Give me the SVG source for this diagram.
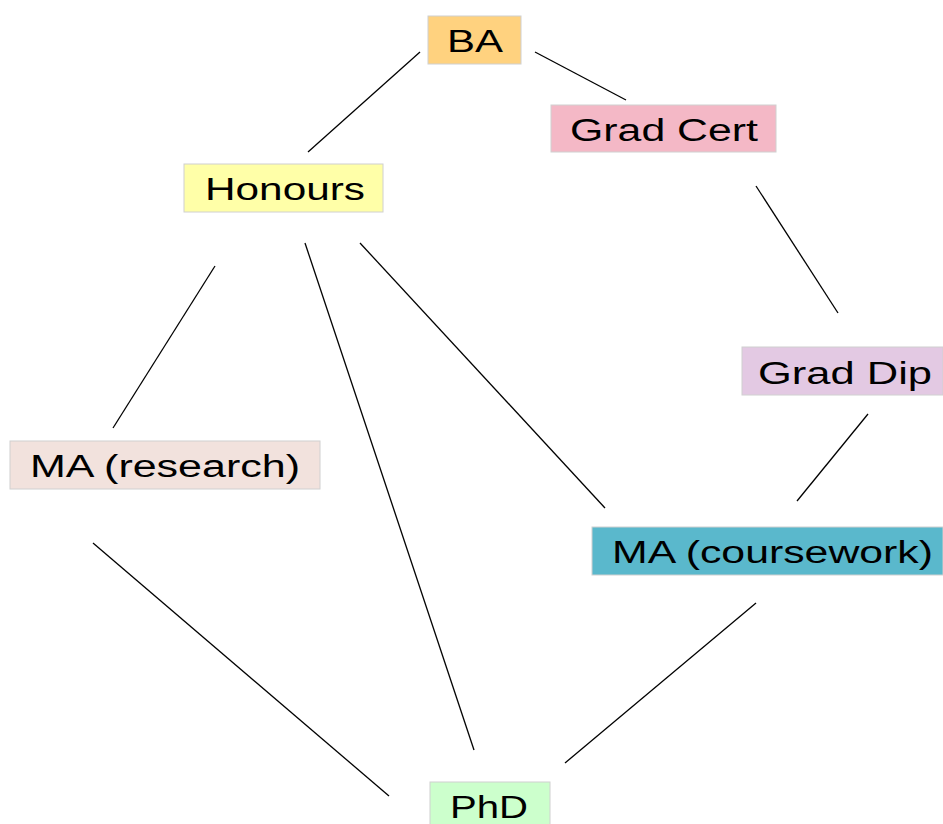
<svg xmlns="http://www.w3.org/2000/svg" width="943" height="824" viewBox="0 0 943 824">
<style>
.box{stroke:#d0d0d0;stroke-width:1}
.lbl{font-family:"Liberation Sans",Arial,sans-serif;font-size:31px;fill:#000}
.edge{stroke:#000;stroke-width:1.3;fill:none}
</style>
<rect width="943" height="824" fill="#fff"/>
<g id="connectors">
<line class="edge" x1="420" y1="52" x2="308" y2="152"/>
<line class="edge" x1="535" y1="52" x2="626" y2="100"/>
<line class="edge" x1="756" y1="186" x2="838" y2="313"/>
<line class="edge" x1="868" y1="414" x2="797" y2="501"/>
<line class="edge" x1="215" y1="266" x2="113" y2="428"/>
<line class="edge" x1="305" y1="243" x2="474" y2="750"/>
<line class="edge" x1="360" y1="243" x2="605" y2="508"/>
<line class="edge" x1="93" y1="543" x2="389" y2="796"/>
<line class="edge" x1="756" y1="603" x2="565" y2="763"/>
</g>
<g id="BA"><rect class="box" x="428" y="16" width="93" height="48" fill="#ffd27f"/><text class="lbl" x="447" y="52" textLength="56" lengthAdjust="spacingAndGlyphs">BA</text></g>
<g id="Honours"><rect class="box" x="184" y="164" width="199" height="48" fill="#ffffa8"/><text class="lbl" x="205" y="200" textLength="160" lengthAdjust="spacingAndGlyphs">Honours</text></g>
<g id="GradCert"><rect class="box" x="551" y="105" width="225" height="47" fill="#f4b8c6"/><text class="lbl" x="570" y="141" textLength="188" lengthAdjust="spacingAndGlyphs">Grad Cert</text></g>
<g id="GradDip"><rect class="box" x="742" y="347" width="201" height="48" fill="#e3c9e3"/><text class="lbl" x="758" y="384" textLength="174" lengthAdjust="spacingAndGlyphs">Grad Dip</text></g>
<g id="MAresearch"><rect class="box" x="10" y="441" width="310" height="48" fill="#f2e2dd"/><text class="lbl" x="30" y="477" textLength="270" lengthAdjust="spacingAndGlyphs">MA (research)</text></g>
<g id="MAcoursework"><rect class="box" x="592" y="527" width="351" height="48" fill="#5ab8cc"/><text class="lbl" x="612" y="563" textLength="321" lengthAdjust="spacingAndGlyphs">MA (coursework)</text></g>
<g id="PhD"><rect class="box" x="430" y="782" width="120" height="48" fill="#ccffcc"/><text class="lbl" x="450" y="818" textLength="78" lengthAdjust="spacingAndGlyphs">PhD</text></g>
</svg>
